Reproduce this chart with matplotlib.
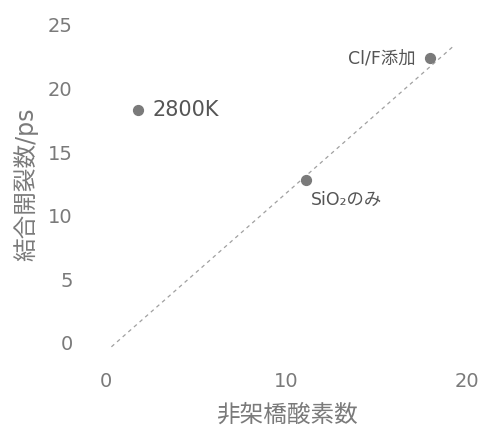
import matplotlib.pyplot as plt

plt.rcParams['font.family'] = ['DejaVu Sans', 'Noto Sans CJK JP']

# data
labels = ['2800K', 'SiO₂のみ', 'Cl/F添加']
x_nbo = [1.8, 11.1, 17.95]
y_break = [18.3, 12.8, 22.4]
# dashed guide line
line_x = [0.3, 19.3]
line_y = [-0.3, 23.4]
x_ticks = [0, 10, 20]
y_ticks = [0, 5, 10, 15, 20, 25]

grey = '#7a7a7a'
text_grey = '#555555'

fig = plt.figure(figsize=(4.81, 4.25), dpi=100)
ax = fig.add_axes([106 / 481, 82 / 425, (467 - 106) / 481, (343 - 25) / 425])

ax.plot(line_x, line_y, color='#a0a0a0', linestyle=(0, (3, 3)), linewidth=0.9, clip_on=False)
ax.scatter(x_nbo, y_break, s=50, color=grey, zorder=3, clip_on=False)

# annotations
ax.annotate(labels[0], (x_nbo[0], y_break[0]), xytext=(10, 0), textcoords='offset points',
            ha='left', va='center', fontsize=15, color=text_grey)
ax.annotate(labels[1], (x_nbo[1], y_break[1]), xytext=(3, -14), textcoords='offset points',
            ha='left', va='center', fontsize=12.5, color=text_grey)
ax.annotate(labels[2], (x_nbo[2], y_break[2]), xytext=(-10, 0), textcoords='offset points',
            ha='right', va='center', fontsize=12.5, color=text_grey)

ax.set_xlim(0, 20)
ax.set_ylim(0, 25)
ax.set_xticks(x_ticks)
ax.set_yticks(y_ticks)
ax.tick_params(length=0, labelsize=14, labelcolor=grey)
ax.tick_params(axis='x', pad=21)
ax.tick_params(axis='y', pad=24)
for s in ax.spines.values():
    s.set_visible(False)

ax.set_xlabel('非架橋酸素数', fontsize=17, color=grey, labelpad=8)
ax.set_ylabel('結合開裂数/ps', fontsize=17, color=grey, labelpad=7)

fig.savefig('out.png', dpi=100)
